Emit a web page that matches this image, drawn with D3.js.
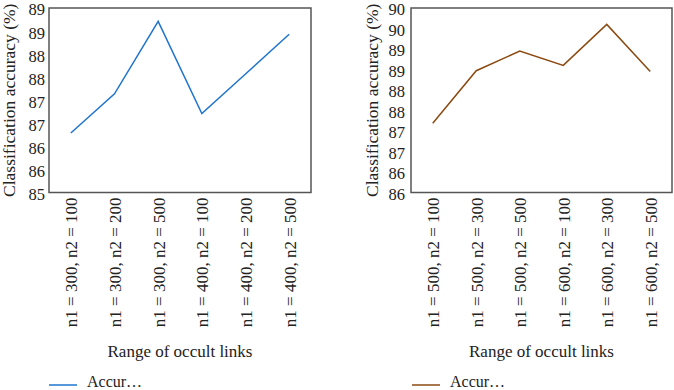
<!DOCTYPE html>
<html><head><meta charset="utf-8">
<script src="https://cdn.jsdelivr.net/npm/d3@7"></script>
<style>body{margin:0;background:#fff}svg{display:block}</style>
</head><body>
<svg id="c" width="674" height="390"></svg>
<script>
const leftCategories = ["n1 = 300, n2 = 100","n1 = 300, n2 = 200","n1 = 300, n2 = 500","n1 = 400, n2 = 100","n1 = 400, n2 = 200","n1 = 400, n2 = 500"];
const leftValues = [86.29, 87.14, 88.71, 86.71, 87.57, 88.43];
const leftTicks = [85, 85.5, 86, 86.5, 87, 87.5, 88, 88.5, 89];
const rightCategories = ["n1 = 500, n2 = 100","n1 = 500, n2 = 300","n1 = 500, n2 = 500","n1 = 600, n2 = 100","n1 = 600, n2 = 300","n1 = 600, n2 = 500"];
const rightValues = [87.19, 88.47, 88.95, 88.6, 89.6, 88.45];
const rightTicks = [85.5, 86, 86.5, 87, 87.5, 88, 88.5, 89, 89.5, 90];
const seriesName = "Accur…";
const yTitle = "Classification accuracy (%)";
const xTitle = "Range of occult links";

const svg = d3.select("#c");
const font = "'Liberation Serif', 'DejaVu Serif', serif";
const fs = 17;

function panel(cfg) {
  const {x0, x1, y0, y1, cats, vals, ticks, color, yTitleX, legendX, tickPad} = cfg;
  const g = svg.append("g");
  const x = d3.scalePoint().domain(cats).range([x0, x1]).padding(0.5);
  const y = d3.scaleLinear().domain([ticks[0], ticks[ticks.length-1]]).range([y1, y0]);

  const yAxis = d3.axisLeft(y).tickValues(ticks).tickSize(0).tickPadding(tickPad)
    .tickFormat(d => d3.format(".0f")(Math.round(d)));
  const ya = g.append("g").attr("transform", `translate(${x0},0)`).call(yAxis);
  ya.select(".domain").remove();
  ya.selectAll("text").attr("font-family", font).attr("font-size", 16.5).attr("fill", "#222")
    .attr("dy", "0.42em");

  const xAxis = d3.axisBottom(x).tickSize(0).tickPadding(0);
  const xa = g.append("g").attr("transform", `translate(0,${y1})`).call(xAxis);
  xa.select(".domain").remove();
  xa.selectAll("text")
    .attr("font-family", font).attr("font-size", fs).attr("fill", "#222")
    .attr("transform", "rotate(-90)")
    .attr("text-anchor", "end")
    .attr("x", -5).attr("y", 0).attr("dy", "0.35em");

  g.append("rect").attr("x", x0).attr("y", y0).attr("width", x1 - x0).attr("height", y1 - y0)
    .attr("fill", "none").attr("stroke", "#555").attr("stroke-width", 1.5);

  const line = d3.line().x((d, i) => x(cats[i])).y(d => y(d));
  g.append("path").datum(vals).attr("d", line).attr("fill", "none")
    .attr("stroke", color).attr("stroke-width", 1.5);

  g.append("text").attr("transform", `translate(${yTitleX},${(y0 + y1) / 2}) rotate(-90)`)
    .attr("text-anchor", "middle").attr("dy", "0.35em")
    .attr("font-family", font).attr("font-size", 17.5).attr("fill", "#222").text(yTitle);
  g.append("text").attr("x", (x0 + x1) / 2).attr("y", 357).attr("text-anchor", "middle")
    .attr("font-family", font).attr("font-size", fs).attr("fill", "#222").text(xTitle);

  g.append("line").attr("x1", legendX).attr("x2", legendX + 28).attr("y1", 385).attr("y2", 385)
    .attr("stroke", color).attr("stroke-width", 1.5);
  g.append("text").attr("x", legendX + 38).attr("y", 386.5)
    .attr("font-family", font).attr("font-size", 16).attr("fill", "#222").text(seriesName);
}

panel({x0: 49, x1: 311, y0: 8, y1: 192.5, cats: leftCategories, vals: leftValues, ticks: leftTicks,
  color: "#1f74d0", yTitleX: 9, legendX: 49, tickPad: 4});
panel({x0: 411, x1: 672, y0: 8, y1: 192.5, cats: rightCategories, vals: rightValues, ticks: rightTicks,
  color: "#8b4a12", yTitleX: 372, legendX: 412, tickPad: 6});
</script>
</body></html>
